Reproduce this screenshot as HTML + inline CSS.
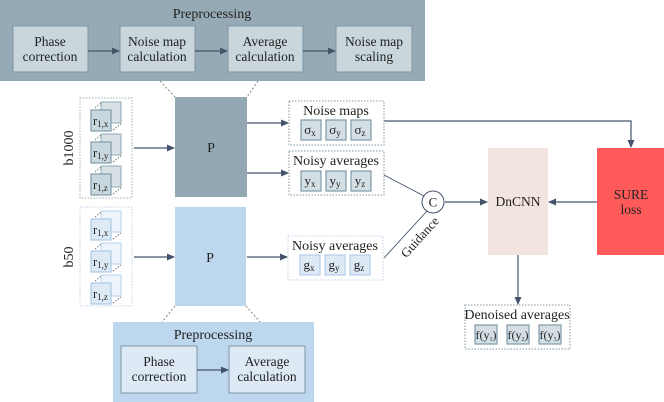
<!DOCTYPE html>
<html><head><meta charset="utf-8"><style>
html,body{margin:0;padding:0;background:#fff;width:664px;height:402px;overflow:hidden}
svg{display:block;font-family:"Liberation Serif",serif}
</style></head><body>
<svg width="664" height="402" viewBox="0 0 664 402" xmlns="http://www.w3.org/2000/svg">
<defs>
<marker id="a" markerWidth="8" markerHeight="8" refX="7" refY="4" orient="auto" markerUnits="userSpaceOnUse"><path d="M0,0.5 L8,4 L0,7.5 z" fill="#44546a"/></marker>
<g id="tileD">
<line x1="4" y1="6" x2="10" y2="1" stroke="#555" stroke-dasharray="1.5,1.5" stroke-width="0.8"/>
<rect x="10" y="0" width="20" height="21" fill="#d6e0e5" stroke="#8fa9b5"/>
<rect x="0" y="8" width="20" height="21" fill="#c9d7de" stroke="#7f9aa7" stroke-width="1.2"/>
<line x1="22" y1="28" x2="30" y2="22" stroke="#555" stroke-dasharray="1.5,1.5" stroke-width="0.8"/>
</g>
<g id="tileL">
<line x1="4" y1="6" x2="10" y2="1" stroke="#555" stroke-dasharray="1.5,1.5" stroke-width="0.8"/>
<rect x="10" y="0" width="20" height="21" fill="#eef4fb" stroke="#b7d2ec"/>
<rect x="0" y="8" width="20" height="21" fill="#dde9f5" stroke="#a9c8e6" stroke-width="1.2"/>
<line x1="22" y1="28" x2="30" y2="22" stroke="#555" stroke-dasharray="1.5,1.5" stroke-width="0.8"/>
</g>
</defs>

<rect x="0" y="0" width="425" height="81" fill="#95aab5"/>
<text x="212" y="18" font-size="14" text-anchor="middle" fill="#222">Preprocessing</text>
<g fill="#c9d6dc" stroke="#7f97a3">
<rect x="13" y="26" width="75" height="46"/><rect x="120" y="26" width="75" height="46"/>
<rect x="228" y="26" width="75" height="46"/><rect x="336" y="26" width="76" height="46"/>
</g>
<g font-size="13.5" text-anchor="middle" fill="#222">
<text x="50" y="46">Phase</text><text x="50" y="61">correction</text>
<text x="157" y="46">Noise map</text><text x="157" y="61">calculation</text>
<text x="265" y="46">Average</text><text x="265" y="61">calculation</text>
<text x="374" y="46">Noise map</text><text x="374" y="61">scaling</text>
</g>
<g stroke="#44546a" stroke-width="1.2" marker-end="url(#a)">
<line x1="88" y1="51" x2="119" y2="51"/><line x1="195" y1="51" x2="227" y2="51"/><line x1="303" y1="51" x2="335" y2="51"/>
</g>
<g stroke="#666" stroke-dasharray="2,2" stroke-width="0.8">
<line x1="160" y1="81" x2="175" y2="97"/><line x1="258" y1="81" x2="247" y2="97"/>
<line x1="175" y1="306" x2="162" y2="322"/><line x1="246" y1="306" x2="260" y2="322"/>
</g>

<rect x="80" y="98" width="52" height="100" fill="#fff" stroke="#9bb0bb" stroke-dasharray="1.5,1.5"/>
<text transform="translate(73,148) rotate(-90)" font-size="14" text-anchor="middle" fill="#222">b1000</text>
<use href="#tileD" x="91" y="102"/><use href="#tileD" x="91" y="134"/><use href="#tileD" x="91" y="166"/>
<g font-size="12.5" fill="#222"><text x="93" y="125">r<tspan font-size="9" dy="2">1,x</tspan></text>
<text x="93" y="157">r<tspan font-size="9" dy="2">1,y</tspan></text>
<text x="93" y="189">r<tspan font-size="9" dy="2">1,z</tspan></text></g>
<rect x="175" y="97" width="72" height="100" fill="#93a8b2"/>
<text x="211" y="152" font-size="14" text-anchor="middle" fill="#222">P</text>

<rect x="80" y="207" width="52" height="99" fill="#fff" stroke="#bcd3ea" stroke-dasharray="1.5,1.5"/>
<text transform="translate(73,257) rotate(-90)" font-size="14" text-anchor="middle" fill="#222">b50</text>
<use href="#tileL" x="91" y="211"/><use href="#tileL" x="91" y="243"/><use href="#tileL" x="91" y="275"/>
<g font-size="12.5" fill="#222"><text x="93" y="234">r<tspan font-size="9" dy="2">1,x</tspan></text>
<text x="93" y="266">r<tspan font-size="9" dy="2">1,y</tspan></text>
<text x="93" y="298">r<tspan font-size="9" dy="2">1,z</tspan></text></g>
<rect x="175" y="207" width="71" height="99" fill="#bdd7ee"/>
<text x="210" y="262" font-size="14" text-anchor="middle" fill="#222">P</text>

<g stroke="#44546a" stroke-width="1.2" fill="none" marker-end="url(#a)">
<line x1="134" y1="148" x2="174" y2="148"/>
<line x1="134" y1="257" x2="174" y2="257"/>
<line x1="247" y1="123" x2="288" y2="123"/>
<line x1="247" y1="173" x2="288" y2="173"/>
<line x1="247" y1="257" x2="287" y2="257"/>
<polyline points="384,121 631,121 631,147"/>
<line x1="445" y1="202" x2="487" y2="202"/>
<line x1="597" y1="202" x2="549" y2="202"/>
<line x1="518" y1="255" x2="518" y2="304"/>
</g>
<g stroke="#44546a" stroke-width="0.9">
<line x1="384" y1="175" x2="424" y2="196"/>
<line x1="384" y1="258" x2="427" y2="211"/>
</g>
<circle cx="433" cy="202" r="11" fill="#fff" stroke="#44546a"/>
<text x="433" y="206.5" font-size="13" text-anchor="middle" fill="#222">C</text>
<text transform="translate(423,240) rotate(-48)" font-size="13" text-anchor="middle" fill="#222">Guidance</text>

<g fill="#fff" stroke="#7f97a3" stroke-dasharray="1.5,1.5">
<rect x="289" y="101" width="95" height="44"/><rect x="289" y="151" width="95" height="44"/>
<rect x="465" y="305" width="105" height="44"/>
</g>
<rect x="288" y="236" width="95" height="44" fill="#fff" stroke="#bcd3ea" stroke-dasharray="1.5,1.5"/>
<g font-size="14" text-anchor="middle" fill="#222">
<text x="336" y="115">Noise maps</text><text x="336" y="165">Noisy averages</text>
<text x="335" y="250">Noisy averages</text><text x="517" y="319">Denoised averages</text>
</g>
<g fill="#d3dfe5" stroke="#7f9aa7" stroke-width="1.2">
<rect x="301" y="120" width="20" height="20"/><rect x="326" y="120" width="20" height="20"/><rect x="351" y="120" width="20" height="20"/>
<rect x="301" y="171" width="20" height="20"/><rect x="326" y="171" width="20" height="20"/><rect x="351" y="171" width="20" height="20"/>
<rect x="475" y="325" width="22" height="19"/><rect x="507" y="325" width="22" height="19"/><rect x="539" y="325" width="22" height="19"/>
</g>
<g fill="#dde9f5" stroke="#b3cde8" stroke-width="1.2">
<rect x="300" y="255" width="20" height="20"/><rect x="325" y="255" width="20" height="20"/><rect x="350" y="255" width="20" height="20"/>
</g>
<g font-size="13" fill="#222" text-anchor="middle">
<text x="310" y="134">σ<tspan font-size="9" dy="2">x</tspan></text>
<text x="335" y="134">σ<tspan font-size="9" dy="2">y</tspan></text>
<text x="360" y="134">σ<tspan font-size="9" dy="2">z</tspan></text>
<text x="310" y="185">y<tspan font-size="9" dy="2">x</tspan></text>
<text x="335" y="185">y<tspan font-size="9" dy="2">y</tspan></text>
<text x="360" y="185">y<tspan font-size="9" dy="2">z</tspan></text>
<text x="309" y="269">g<tspan font-size="9" dy="2">x</tspan></text>
<text x="334" y="269">g<tspan font-size="9" dy="2">y</tspan></text>
<text x="359" y="269">g<tspan font-size="9" dy="2">z</tspan></text>
<text x="486" y="339" font-size="12">f(y<tspan font-size="6" dy="2">1</tspan><tspan dy="-2">)</tspan></text>
<text x="518" y="339" font-size="12">f(y<tspan font-size="6" dy="2">2</tspan><tspan dy="-2">)</tspan></text>
<text x="550" y="339" font-size="12">f(y<tspan font-size="6" dy="2">3</tspan><tspan dy="-2">)</tspan></text>
</g>

<rect x="488" y="148" width="60" height="107" fill="#f2e4df"/>
<text x="518" y="206" font-size="13.5" text-anchor="middle" fill="#222">DnCNN</text>
<rect x="597" y="148" width="67" height="107" fill="#fe5a5a"/>
<text x="631" y="199" font-size="13.5" text-anchor="middle" fill="#222">SURE</text>
<text x="631" y="214" font-size="13.5" text-anchor="middle" fill="#222">loss</text>

<rect x="113" y="322" width="201" height="80" fill="#bdd7ee"/>
<text x="213" y="339" font-size="14" text-anchor="middle" fill="#222">Preprocessing</text>
<g fill="#dde9f5" stroke="#7f97a3">
<rect x="121" y="346" width="76" height="47"/><rect x="229" y="346" width="76" height="47"/>
</g>
<g font-size="13.5" text-anchor="middle" fill="#222">
<text x="159" y="366">Phase</text><text x="159" y="381">correction</text>
<text x="267" y="366">Average</text><text x="267" y="381">calculation</text>
</g>
<line x1="197" y1="370" x2="228" y2="370" stroke="#44546a" stroke-width="1.2" marker-end="url(#a)"/>
</svg>
</body></html>
